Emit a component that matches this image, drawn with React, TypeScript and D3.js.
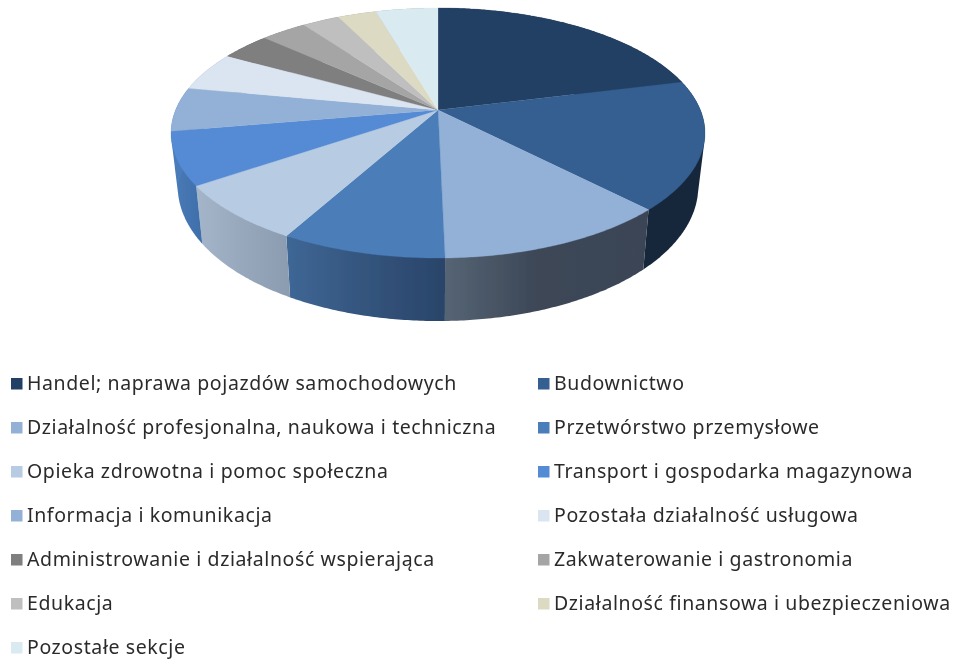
import React from "react";
import * as d3 from "d3";

const categories = [
  "Handel; naprawa pojazdów samochodowych",
  "Budownictwo",
  "Działalność profesjonalna, naukowa i techniczna",
  "Przetwórstwo przemysłowe",
  "Opieka zdrowotna i pomoc społeczna",
  "Transport i gospodarka magazynowa",
  "Informacja i komunikacja",
  "Pozostała działalność usługowa",
  "Administrowanie i działalność wspierająca",
  "Zakwaterowanie i gastronomia",
  "Edukacja",
  "Działalność finansowa i ubezpieczeniowa",
  "Pozostałe sekcje",
];
const shares = [21.1, 16.6, 11.9, 8.4, 7.4, 6.8, 5.7, 5.1, 3.6, 3.3, 2.7, 2.8, 4.5];
const topColors = [
  "#243f63", "#345e90", "#93b1d7", "#4b7db9", "#b7cce2", "#558ad4", "#93b1d7",
  "#dbe5f1", "#7f7f7f", "#a5a5a5", "#bfbfbf", "#dddac4", "#d9eaf1",
];
const wallLeft = ["#14263b", "#14263b", "#566474", "#3f6796", "#a5b5c9", "#4a7cb9", "#4a7cb9", "#8a9bb0", "#555", "#777", "#888", "#999", "#999"];
const wallMid = ["#14263b", "#14263b", "#3c4757", "#35567f", "#98a9be", "#4576b2", "#4a7cb9", "#8a9bb0", "#555", "#777", "#888", "#999", "#999"];
const wallRight = ["#14263b", "#14263b", "#3a4555", "#2a4469", "#8b9cb1", "#3f6fab", "#4a7cb9", "#8a9bb0", "#555", "#777", "#888", "#999", "#999"];

const W = 955, H = 659;
const apexX = 438, apexY = 110;
const A = 262.4, B = 120.8, K = 0.184;
const bottomScale = 0.975, depthBase = 51, depthSlope = 12;

const top = (t: number): [number, number] => {
  const X = Math.sin(t), Y = Math.cos(t), w = 1 + K * Y;
  return [apexX + (A * X) / w, apexY - (B * Y) / w];
};
const bottom = (t: number): [number, number] => {
  const [x, y] = top(t);
  return [apexX + (x - apexX) * bottomScale, y + depthBase - depthSlope * Math.cos(t)];
};
const samples = (a: number, b: number) => {
  const n = Math.max(2, Math.ceil((b - a) / 0.01));
  return d3.range(n + 1).map((i) => a + ((b - a) * i) / n);
};
const line = d3.line();

const arcs = d3.pie<number>().sort(null).value((d) => d)(shares);

const col1X = d3.scaleOrdinal<number, number>().domain([0, 1]).range([11, 538]);
const rowY = d3.scaleLinear().domain([0, 6]).range([383.5, 647.5]);

export default function App() {
  return (
    <svg width={W} height={H} viewBox={`0 0 ${W} ${H}`}
      style={{ position: "absolute", left: 0, top: 0, background: "#fff" }}>
      <defs>
        {arcs.map((_, i) => (
          <linearGradient key={i} id={`wall${i}`} x1="0" x2="1" y1="0" y2="0">
            <stop offset="0" stopColor={wallLeft[i]} />
            <stop offset="0.45" stopColor={wallMid[i]} />
            <stop offset="1" stopColor={wallRight[i]} />
          </linearGradient>
        ))}
        <filter id="soft" x="-5%" y="-5%" width="110%" height="110%">
          <feGaussianBlur stdDeviation="0.4" />
        </filter>
      </defs>
      <g filter="url(#soft)">
        <g>
          {arcs.map((a, i) => {
            const ts = samples(a.startAngle, a.endAngle);
            const hull = d3.polygonHull([...ts.map(top), ...ts.map(bottom)])!;
            return <path key={i} d={line(hull) + "Z"} fill={`url(#wall${i})`} />;
          })}
        </g>
        <g>
          {arcs.map((a, i) => {
            const ts = samples(a.startAngle, a.endAngle);
            const d = line([[apexX, apexY], ...ts.map(top)]) + "Z";
            return <path key={i} d={d} fill={topColors[i]} stroke={topColors[i]} strokeWidth={0.3} />;
          })}
        </g>
      </g>
      <g fontFamily="'Noto Sans'" fontSize={19.5} letterSpacing={0.6} fill="#2b2b2b" filter="url(#soft)">
        {categories.map((c, i) => {
          const col = i % 2, row = Math.floor(i / 2);
          const x = col1X(col), y = rowY(row);
          return (
            <g key={c}>
              <rect x={x} y={y - 5.5} width={11.5} height={11.5} fill={topColors[i]} />
              <text x={x + 16} y={y + 6.5}>{c}</text>
            </g>
          );
        })}
      </g>
    </svg>
  );
}
